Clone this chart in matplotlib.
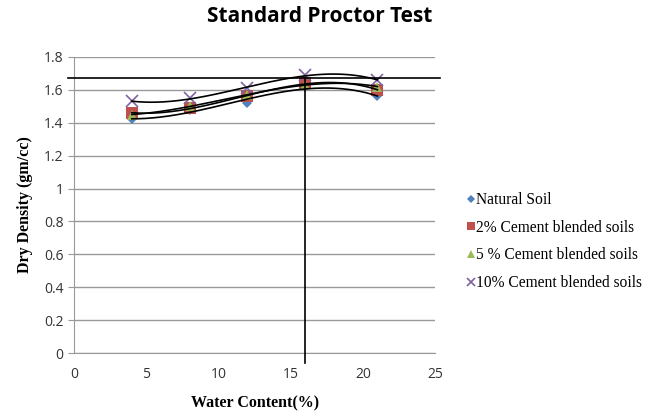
import matplotlib
matplotlib.use('Agg')
import matplotlib.pyplot as plt
import numpy as np

water = [4, 8, 12, 16, 21]
natural = [1.42, 1.48, 1.52, 1.62, 1.56]
cem2 = [1.46, 1.49, 1.56, 1.64, 1.60]
cem5 = [1.45, 1.50, 1.57, 1.63, 1.62]
cem10 = [1.53, 1.55, 1.61, 1.69, 1.66]
names = ['Natural Soil', '2% Cement blended soils',
         '5 % Cement blended soils', '10% Cement blended soils']
omc = 16
mdd = 1.67

fig = plt.figure(figsize=(6.52, 4.16), dpi=100)
ax = fig.add_axes([0.1135, 0.1514, 0.554, 0.7116])

series = [natural, cem2, cem5, cem10]
markers = ['D', 's', '^', 'x']
colors = ['#4F81BD', '#C0504D', '#9BBB59', '#8064A2']
sizes = [5, 8, 7, 8]

xs = np.linspace(min(water), max(water), 200)
for vals in series:
    coef = np.polyfit(water, vals, 3)
    ax.plot(xs, np.polyval(coef, xs), color='black', lw=1.2, zorder=3)

for vals, m, c, s, n in zip(series, markers, colors, sizes, names):
    ax.plot(water, vals, linestyle='none', marker=m, color=c, ms=s,
            mew=1.2 if m == 'x' else 0, label=n, zorder=2)

# optimum moisture content / max dry density guide lines
ax.plot([-0.4, 25.3], [mdd, mdd], color='black', lw=1.2, clip_on=False, zorder=4)
ax.plot([omc, omc], [-0.06, mdd], color='black', lw=1.2, clip_on=False, zorder=4)

ax.set_xlim(0, 25)
ax.set_ylim(0, 1.8)
ax.set_xticks(range(0, 26, 5))
ax.set_yticks(np.arange(0, 1.81, 0.2))
ax.set_yticklabels(['0', '0.2', '0.4', '0.6', '0.8', '1', '1.2', '1.4', '1.6', '1.8'])
ax.grid(axis='y', color='#999999', lw=1)
ax.set_axisbelow(True)
for side in ['top', 'right']:
    ax.spines[side].set_visible(False)
for side in ['left', 'bottom']:
    ax.spines[side].set_color('#999999')
ax.tick_params(axis='x', length=0, pad=10, labelsize=10, labelcolor='#333333')
ax.tick_params(axis='y', length=4, color='#999999', labelsize=10, labelcolor='#333333')
for lbl in ax.get_xticklabels() + ax.get_yticklabels():
    lbl.set_family('Open Sans')

ax.set_xlabel('Water Content(%)', family='Liberation Serif', weight='bold',
              fontsize=11.5, labelpad=10)
ax.set_ylabel('Dry Density (gm/cc)', family='Liberation Serif', weight='bold',
              fontsize=11.5, labelpad=8)
fig.suptitle('Standard Proctor Test', family='Open Sans', weight='bold',
             fontsize=15, x=0.49, y=0.985)

leg = ax.legend(loc='upper left', bbox_to_anchor=(1.07, 0.565), frameon=False,
                prop={'family': 'Liberation Serif', 'size': 11.2},
                handlelength=0.5, handletextpad=0.1, labelspacing=0.75,
                borderaxespad=0, markerscale=0.75)

fig.savefig('out.png', dpi=100)
